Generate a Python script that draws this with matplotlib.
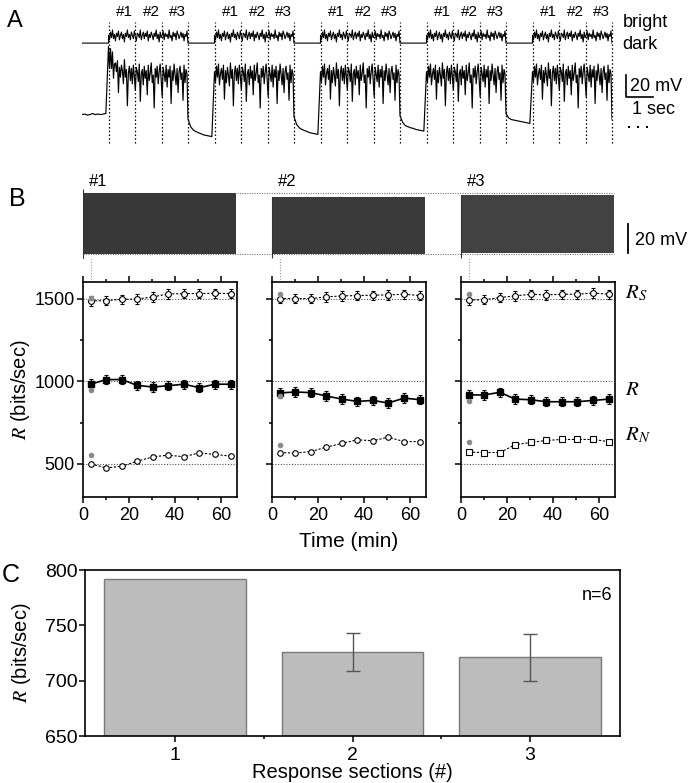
import matplotlib
matplotlib.use("Agg")
import matplotlib.pyplot as plt
import numpy as np

plt.rcParams["font.family"] = ["Liberation Sans", "DejaVu Sans"]
plt.rcParams["mathtext.fontset"] = "stix"
plt.rcParams["axes.linewidth"] = 1.2

# ---------------- panel A data (time in s, voltage in mV) ----------------
bright_starts = [1, 5, 9, 13, 17]
bright_dur = 3
dark_spans = [(0, 1), (4, 5), (8, 9), (12, 13), (16, 17)]
section_labels = ["#1", "#2", "#3"]
plateau_mv = -40
stim_dark_mv = -11
end_drop_mv = -80

# membrane potential in the dark between bright periods
dark_traces = [
    [-76, -75.5, -76.5, -76, -75, -76, -75.5, -76, -75.5, -75],
    [-80, -87, -90, -91.5, -92.5, -93.5, -94.5, -95, -95.5, -96],
    [-78, -85, -88, -89.5, -90.5, -91.5, -92.5, -93, -93.5, -94],
    [-77, -83, -86, -87, -88, -88.5, -89.5, -90, -90.5, -91],
    [-75, -79, -80.5, -81, -81.5, -82, -82.5, -83, -83.5, -84],
]
# extra depolarisation at the very first light onset
onset_offset = [23, 12, 16, 8, 11, 6, 9, 5, 7, 4, 6, 3, 5, 2, 4, 2, 3, 1]
# voltage fluctuations around the plateau during bright (mV)
resp_noise = [3, -6, 8, -2, 10, -9, 1, 6, -4, 9, -22, 4, -7, 7, 0, -10, 11, -3,
              5, -28, 2, 8, -5, 6, -8, 9, -1, -14, 7, 3, -6, 10, -24, 1, 5, -9,
              8, -3, 4, -18, 9, -5, 2, 11, -7, 0, -30, 6, -2, 8, -8, 3, 10, -4,
              -20, 7, 1, -6, 9, -11, 5, -2, 8, -26, 4, -5, 10, 0, -9, 6, -16, 3,
              8, -4, 2, -23, 9, -7, 5, 1]
# light intensity fluctuations (stimulus trace, same units as plotted)
stim_noise = [7, 3, 10, 5, 12, 4, 8, 2, 9, 6, 11, 3, 7, 10, 4, 8, 1, 9, 6, 12,
              5, 8, 3, 10, 7, 4, 11, 6, 2, 9, 8, 5, 12, 3, 7, 10, 4, 9, 6, 11,
              2, 8, 5, 10, 7, 3, 9, 6, 12, 4, 8, 1, 10, 5, 7, 11, 3, 9, 6, 8,
              4, 12, 5, 7, 2, 10, 6, 9, 3, 11, 8, 4, 7, 10, 5, 9, 2, 8, 6, 11]

# ---------------- panel B data ----------------
block_minutes = (0, 66.5)
block_top_mv = [42, 39.3, 40.7]
block_bottom_mv = [0, 0, 0.5]
block_colors = ["#383838", "#3a3a3a", "#424242"]
block_labels = ["#1", "#2", "#3"]

t_min = [3.5, 10, 17, 23.5, 30.5, 37, 44, 50.5, 57.5, 64.5]
rs_vals = [
    [1485, 1488, 1495, 1497, 1510, 1528, 1530, 1530, 1532, 1530],
    [1500, 1500, 1500, 1510, 1516, 1518, 1520, 1522, 1526, 1518],
    [1492, 1492, 1506, 1516, 1526, 1522, 1526, 1526, 1533, 1526],
]
r_vals = [
    [982, 1010, 1010, 975, 965, 973, 982, 961, 982, 982],
    [929, 935, 931, 911, 892, 878, 884, 868, 898, 888],
    [917, 917, 933, 892, 888, 876, 876, 876, 884, 892],
]
rn_vals = [
    [500, 476, 486, 516, 543, 553, 543, 567, 557, 547],
    [569, 565, 575, 601, 624, 646, 640, 662, 635, 635],
    [571, 569, 569, 616, 630, 642, 648, 648, 648, 634],
]
rs_err = [30, 28, 28, 28, 28, 28, 28, 28, 28, 28]
r_err = [30, 28, 28, 28, 28, 28, 28, 28, 28, 28]
rn_err = [10, 8, 8, 8, 8, 8, 8, 8, 8, 8]
grey_rs = [1505, 1525, 1530]
grey_r = [945, 910, 880]
grey_rn = [553, 614, 630]
rn_markers = ["o", "o", "s"]

# ---------------- panel C data ----------------
sections = [1, 2, 3]
section_rate = [792, 726, 721]
section_err = [0, 17, 21.5]

W, H = 693, 783
fig = plt.figure(figsize=(W / 100, H / 100), dpi=100)


def px_axes(left, top, right, bottom):
    return fig.add_axes([left / W, 1 - bottom / H, (right - left) / W, (bottom - top) / H])


# ================= A =================
ax_a = px_axes(82, 20, 612, 145.4)
ax_a.set_xlim(0, 20)
ax_a.set_ylim(-104, 10)
ax_a.axis("off")

t_resp, v_resp, t_stim, v_stim = [], [], [], []
for k, (d0, d1) in enumerate(dark_spans):
    dv = dark_traces[k]
    t_resp += list(np.linspace(d0, d1, len(dv), endpoint=False))
    v_resp += list(dv)
    t_stim += [d0, d1]
    v_stim += [stim_dark_mv, stim_dark_mv]
    b0 = bright_starts[k]
    tb = np.linspace(b0, b0 + bright_dur, len(resp_noise), endpoint=False)
    vb = plateau_mv + np.array(resp_noise, dtype=float)
    if k == 0:
        vb[:len(onset_offset)] += onset_offset
    t_resp += list(tb)
    v_resp += list(vb)
    ts = np.linspace(b0, b0 + bright_dur, len(stim_noise), endpoint=False)
    t_stim += list(ts)
    v_stim += list(stim_dark_mv + np.array(stim_noise, dtype=float))
t_resp += [bright_starts[-1] + bright_dur]
v_resp += [end_drop_mv]
t_stim += [bright_starts[-1] + bright_dur]
v_stim += [stim_dark_mv]

ax_a.plot(t_resp, v_resp, color="black", lw=0.85)
ax_a.plot(t_stim, v_stim, color="black", lw=0.8)

for b0 in bright_starts:
    for j in range(bright_dur + 1):
        ax_a.plot([b0 + j, b0 + j], [-102, 8], color="black", lw=0.9,
                  ls=(0, (1.2, 1.8)), clip_on=False)
    for j, lab in enumerate(section_labels):
        ax_a.text(b0 + j + 0.62, 17, lab, ha="center", va="center", fontsize=11)

ax_a.text(20.4, 8, "bright", ha="left", va="center", fontsize=13)
ax_a.text(20.4, -12.7, "dark", ha="left", va="center", fontsize=13)
ax_a.plot([20.53, 20.53, 21.53], [-40, -60, -60], color="black", lw=1.2, clip_on=False)
ax_a.text(20.68, -50.5, "20 mV", ha="left", va="center", fontsize=13)
ax_a.text(20.75, -71.8, "1 sec", ha="left", va="center", fontsize=13)
ax_a.plot(np.linspace(20.66, 21.32, 3), [-87.3] * 3, "s", color="black", ms=1.8,
          mew=0, clip_on=False)

# ================= chart panels =================
panel_left = [83, 272, 461]
panel_w = 154
xmax = 67
chart_axes = []
for i, left in enumerate(panel_left):
    ax = px_axes(left, 282, left + panel_w, 497)
    chart_axes.append(ax)
    ax.set_xlim(0, xmax)
    ax.set_ylim(300, 1600)
    for yref in (500, 1000, 1500):
        ax.axhline(yref, color="#555555", lw=0.8, ls=(0, (1, 1.5)), zorder=0)
    # RS
    ax.errorbar(t_min, rs_vals[i], yerr=rs_err, fmt="o", ms=4.2, mfc="white",
                mec="black", mew=0.8, ecolor="black", elinewidth=0.7, capsize=1.5,
                capthick=0.7, zorder=3)
    ax.plot(t_min, rs_vals[i], color="black", lw=0.8, ls=(0, (2, 1.5)), zorder=2)
    # R
    ax.errorbar(t_min, r_vals[i], yerr=r_err, fmt="s", ms=3.7, mfc="black",
                mec="black", ecolor="black", elinewidth=0.8, capsize=1.5,
                capthick=0.8, zorder=3)
    ax.plot(t_min, r_vals[i], color="black", lw=1.2, zorder=2)
    # RN
    ax.errorbar(t_min, rn_vals[i], yerr=rn_err, fmt=rn_markers[i], ms=4.0,
                mfc="white", mec="black", mew=0.8, ecolor="black", elinewidth=0.6,
                capsize=1.2, zorder=3)
    ax.plot(t_min, rn_vals[i], color="black", lw=0.8, ls=(0, (2, 1.5)), zorder=2)
    # first-window estimates in grey
    ax.plot([t_min[0]] * 3, [grey_rs[i], grey_r[i], grey_rn[i]], "o", ms=3,
            color="#8a8a8a", zorder=4)
    # dotted guide up to the trace
    ax.axvline(t_min[0], ymin=1.0, ymax=1.117, color="#999999", lw=0.8,
               ls=(0, (1, 1.5)), clip_on=False)

    ax.set_xticks([0, 20, 40, 60])
    ax.set_xticks([10, 30, 50], minor=True)
    ax.set_yticks([500, 1000, 1500])
    ax.set_yticks([750, 1250], minor=True)
    ax.tick_params(which="both", direction="out", top=True, right=False,
                   labelsize=13, pad=3, width=1.1)
    ax.tick_params(which="major", length=4.5)
    ax.tick_params(which="minor", length=2.5)
    ax.tick_params(axis="y", pad=1.5)
    if i > 0:
        ax.tick_params(axis="y", labelleft=False)

chart_axes[0].set_ylabel(r"$R$ (bits/sec)", fontsize=14.5)
chart_axes[0].yaxis.set_label_coords(-0.33, 0.5)
chart_axes[1].set_xlabel("Time (min)", fontsize=15)
chart_axes[1].xaxis.set_label_coords(0.5, -0.165)

ax3 = chart_axes[2]
ax3.text(71.3, 1533, r"$R_S$", fontsize=15, ha="left", va="center", clip_on=False)
ax3.text(71.3, 947, r"$R$", fontsize=15, ha="left", va="center", clip_on=False)
ax3.text(71.3, 675, r"$R_N$", fontsize=15, ha="left", va="center", clip_on=False)

# ================= B =================
ax_b = px_axes(83, 188, 615, 259)
offsets = [(left - panel_left[0]) / panel_w * xmax for left in panel_left]
ax_b.set_xlim(0, offsets[-1] + xmax)
ax_b.set_ylim(-3.4, 45.4)
ax_b.axis("off")
span_end = offsets[-1] + block_minutes[1]
ax_b.hlines(block_top_mv[0], block_minutes[0], span_end, color="#777777", lw=0.8,
            ls=(0, (1, 1.2)), zorder=1)
ax_b.hlines(0, block_minutes[0], span_end, color="#777777", lw=0.8,
            ls=(0, (1, 1.2)), zorder=1)
for k, off in enumerate(offsets):
    x0, x1 = off + block_minutes[0], off + block_minutes[1]
    ax_b.fill_between([x0, x1], block_bottom_mv[k], block_top_mv[k],
                      color=block_colors[k], lw=0, zorder=2)
    ax_b.vlines(x0, -2.5 if k else -3.4, block_top_mv[k] + (3 if k == 0 else 0),
                color="#333333", lw=0.8, zorder=3)
    ax_b.text(x0 + 2.6, 49.6, block_labels[k], ha="left", va="center", fontsize=12)
sb_x = offsets[-1] + xmax + 5.7
ax_b.plot([sb_x, sb_x], [0.5, 20.5], color="black", lw=1.3, clip_on=False)
ax_b.text(sb_x + 2.8, 9, "20 mV", ha="left", va="center", fontsize=13)

# ================= C =================
ax_c = px_axes(85, 570, 620, 736)
ax_c.bar(sections, section_rate, width=0.8, color="#bcbcbc", edgecolor="#7a7a7a",
         lw=1.0)
for x, h, e in zip(sections, section_rate, section_err):
    if e > 0:
        ax_c.errorbar(x, h, yerr=e, color="#555555", elinewidth=1.0, capsize=5,
                      capthick=1.0)
ax_c.set_xlim(0.49, 3.51)
ax_c.set_ylim(650, 800)
ax_c.set_xticks(sections)
ax_c.set_xticks([1.5, 2.5], minor=True)
ax_c.set_yticks([650, 700, 750, 800])
ax_c.tick_params(which="both", direction="out", labelsize=14, width=1.1)
ax_c.tick_params(which="major", length=4.5)
ax_c.tick_params(which="minor", length=2.5)
ax_c.tick_params(axis="y", pad=1)
ax_c.text(3.47, 777, "n=6", ha="right", va="center", fontsize=13)
ax_c.set_ylabel(r"$R$ (bits/sec)", fontsize=14.5)
ax_c.yaxis.set_label_coords(-0.097, 0.5)
ax_c.set_xlabel("Response sections (#)", fontsize=14.5)
ax_c.xaxis.set_label_coords(0.5, -0.165)

fig.text(15 / W, 1 - 21 / H, "A", fontsize=17, ha="center", va="center")
fig.text(17 / W, 1 - 199 / H, "B", fontsize=18, ha="center", va="center")
fig.text(11 / W, 1 - 575 / H, "C", fontsize=18, ha="center", va="center")

fig.savefig("out.png", dpi=100)
